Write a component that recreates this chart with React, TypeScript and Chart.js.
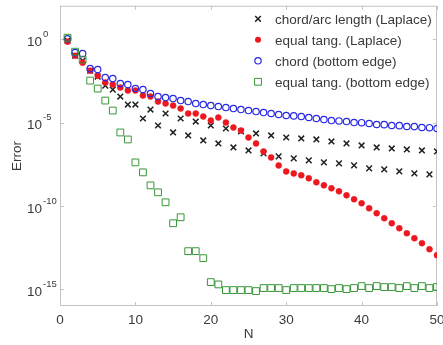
import React, { useEffect, useRef } from 'react';
import { Chart, registerables } from 'chart.js';

Chart.register(...registerables);

// ---------- data ----------
const N = [
  1, 2, 3, 4, 5, 6, 7, 8, 9, 10,
  11, 12, 13, 14, 15, 16, 17, 18, 19, 20,
  21, 22, 23, 24, 25, 26, 27, 28, 29, 30,
  31, 32, 33, 34, 35, 36, 37, 38, 39, 40,
  41, 42, 43, 44, 45, 46, 47, 48, 49, 50,
];

const chordArcLaplace = [
  8.07e-1, 1.02e-1, 5.14e-2, 1.29e-2, 5.66e-3, 1.64e-3, 9.46e-4, 3.61e-4, 1.2e-4, 1.2e-4,
  1.75e-5, 6.03e-5, 6.65e-6, 3.48e-5, 2.54e-6, 1.75e-5, 1.68e-6, 1.15e-5, 8.43e-7, 6.65e-6,
  5.57e-7, 4.4e-6, 3.21e-7, 2.91e-6, 2.13e-7, 2.21e-6, 1.41e-7, 1.68e-6, 9.31e-8, 1.27e-6,
  7.06e-8, 1.11e-6, 5.37e-8, 9.68e-7, 4.07e-8, 7.35e-7, 3.55e-8, 5.57e-7, 2.7e-8, 4.24e-7,
  1.78e-8, 3.21e-7, 1.55e-8, 2.8e-7, 1.18e-8, 2.44e-7, 8.95e-9, 2.13e-7, 7.8e-9, 1.85e-7,
];

const equalTangLaplace = [
  7.03e-1, 1.02e-1, 3.9e-2, 1.29e-2, 6.5e-3, 2.48e-3, 1.88e-3, 1.25e-3, 8.24e-4, 8.24e-4,
  4.14e-4, 3.61e-4, 1.81e-4, 1.38e-4, 1.04e-4, 6.92e-5, 3.48e-5, 3.48e-5, 2.3e-5, 1.32e-5,
  2.0e-5, 1.0e-5, 5.05e-6, 3.34e-6, 1.27e-6, 5.57e-7, 1.85e-7, 8.11e-8, 2.7e-8, 1.18e-8,
  8.95e-9, 6.81e-9, 4.5e-9, 2.59e-9, 1.71e-9, 1.14e-9, 7.52e-10, 4.33e-10, 2.49e-10, 1.44e-10,
  7.23e-11, 3.63e-11, 1.82e-11, 9.16e-12, 4.6e-12, 2.31e-12, 1.16e-12, 5.83e-13, 2.55e-13, 1.12e-13,
];

const chordBottom = [
  1.06, 1.55e-1, 1.35e-1, 1.71e-2, 1.49e-2, 4.94e-3, 4.31e-3, 2.16e-3, 1.88e-3, 1.09e-3,
  9.46e-4, 5.46e-4, 3.61e-4, 3.15e-4, 2.74e-4, 2.08e-4, 1.81e-4, 1.38e-4, 1.2e-4, 1.04e-4,
  9.1e-5, 7.94e-5, 6.92e-5, 6.03e-5, 5.25e-5, 4.57e-5, 3.98e-5, 3.48e-5, 3.03e-5, 2.64e-5,
  2.5e-5, 2.3e-5, 2.0e-5, 1.75e-5, 1.52e-5, 1.32e-5, 1.25e-5, 1.15e-5, 1.0e-5, 9.8e-6,
  8.77e-6, 7.64e-6, 7.5e-6, 6.65e-6, 6.5e-6, 5.79e-6, 5.7e-6, 5.05e-6, 4.9e-6, 4.4e-6,
];

const equalTangBottom = [
  1.22, 1.77e-1, 5.89e-2, 3.27e-3, 1.09e-3, 2.08e-4, 5.25e-5, 2.54e-6, 9.68e-7, 4.07e-8,
  1.03e-8, 1.71e-9, 6.55e-10, 1.65e-10, 9.16e-12, 2.09e-11, 1.94e-13, 1.94e-13, 7.38e-14, 2.71e-15,
  1.97e-15, 9.0e-16, 9.0e-16, 9.0e-16, 9.0e-16, 7.85e-16, 1.19e-15, 1.19e-15, 1.19e-15, 9.0e-16,
  1.19e-15, 1.19e-15, 1.19e-15, 1.19e-15, 1.19e-15, 1.03e-15, 1.19e-15, 1.03e-15, 1.19e-15, 1.56e-15,
  1.19e-15, 1.56e-15, 1.36e-15, 1.36e-15, 1.19e-15, 1.56e-15, 1.19e-15, 1.56e-15, 1.19e-15, 1.36e-15,
];

const seriesNames = [
  'chord/arc length (Laplace)',
  'equal tang. (Laplace)',
  'chord (bottom edge)',
  'equal tang. (bottom edge)',
];

const xTickValues = [0, 10, 20, 30, 40, 50];
const yTickValues = [1, 1e-5, 1e-10, 1e-15];
const yTickExponents = ['0', '-5', '-10', '-15'];

// ---------- styling ----------
const FONT_FAMILY = '"Liberation Sans", Arial, Helvetica, sans-serif';
const TEXT_COLOR = '#3a3a3a';
const AXIS_COLOR = '#c4c4c4';
const COLORS = ['#222222', 'rgb(236,24,32)', 'rgb(40,40,230)', 'rgb(56,150,56)'];

const toPoints = (ys: number[]) => N.map((n, i) => ({ x: n, y: ys[i] }));

const axesPlugin = {
  id: 'matlabAxes',
  beforeDatasetsDraw(chart: any) {
    const { ctx, chartArea } = chart;
    const { left, right, top, bottom } = chartArea;
    const xs = chart.scales.x;
    const ys = chart.scales.y;
    ctx.save();
    ctx.strokeStyle = AXIS_COLOR;
    ctx.lineWidth = 1;
    ctx.strokeRect(left + 0.5, top + 0.5, right - left - 1, bottom - top - 1);
    const tl = 4;
    ctx.beginPath();
    xTickValues.forEach((v) => {
      const px = Math.round(xs.getPixelForValue(v)) + 0.5;
      ctx.moveTo(px, bottom);
      ctx.lineTo(px, bottom - tl);
      ctx.moveTo(px, top);
      ctx.lineTo(px, top + tl);
    });
    yTickValues.forEach((v) => {
      const py = Math.round(ys.getPixelForValue(v)) + 0.5;
      ctx.moveTo(left, py);
      ctx.lineTo(left + tl, py);
      ctx.moveTo(right, py);
      ctx.lineTo(right - tl, py);
    });
    ctx.stroke();

    // y tick labels 10^k
    ctx.fillStyle = TEXT_COLOR;
    ctx.textAlign = 'left';
    ctx.textBaseline = 'middle';
    yTickValues.forEach((v, i) => {
      const py = ys.getPixelForValue(v);
      const bx = left - 33;
      ctx.font = `13.5px ${FONT_FAMILY}`;
      ctx.fillText('10', bx, py + 3);
      const w = ctx.measureText('10').width;
      ctx.font = `9.5px ${FONT_FAMILY}`;
      ctx.fillText(yTickExponents[i], bx + w + 1, py - 5);
    });
    ctx.restore();
  },
  afterDraw(chart: any) {
    const { ctx, chartArea } = chart;
    const mx = chartArea.right - 179;
    const tx = chartArea.right - 162;
    const y0 = chartArea.top + 13;
    const dy = 21;
    ctx.save();
    chart.data.datasets.forEach((ds: any, i: number) => {
      const y = y0 + i * dy;
      ctx.strokeStyle = COLORS[i];
      ctx.fillStyle = COLORS[i];
      ctx.beginPath();
      if (i === 0) {
        const s = 2.8;
        ctx.lineWidth = 1.5;
        ctx.moveTo(mx - s, y - s);
        ctx.lineTo(mx + s, y + s);
        ctx.moveTo(mx - s, y + s);
        ctx.lineTo(mx + s, y - s);
        ctx.stroke();
      } else if (i === 1) {
        ctx.arc(mx, y, 3, 0, Math.PI * 2);
        ctx.fill();
      } else if (i === 2) {
        ctx.lineWidth = 1.2;
        ctx.arc(mx, y, 3.2, 0, Math.PI * 2);
        ctx.stroke();
      } else {
        ctx.lineWidth = 1;
        ctx.rect(mx - 3.4, y - 3.4, 6.8, 6.8);
        ctx.stroke();
      }
      ctx.fillStyle = TEXT_COLOR;
      ctx.font = `13.5px ${FONT_FAMILY}`;
      ctx.textAlign = 'left';
      ctx.textBaseline = 'middle';
      ctx.fillText(ds.label, tx, y + 1);
    });
    ctx.restore();
  },
};

export default function App() {
  const canvasRef = useRef<HTMLCanvasElement | null>(null);

  useEffect(() => {
    const canvas = canvasRef.current;
    if (!canvas) return;
    const font = { family: FONT_FAMILY, size: 13.5 };
    const chart = new Chart(canvas, {
      type: 'scatter',
      data: {
        datasets: [
          {
            label: seriesNames[0],
            data: toPoints(chordArcLaplace),
            pointStyle: 'crossRot',
            pointRadius: 4,
            borderColor: COLORS[0],
            backgroundColor: COLORS[0],
            borderWidth: 1.5,
            showLine: false,
            order: 3,
          },
          {
            label: seriesNames[1],
            data: toPoints(equalTangLaplace),
            pointStyle: 'circle',
            pointRadius: 3,
            borderColor: COLORS[1],
            backgroundColor: COLORS[1],
            borderWidth: 0.5,
            showLine: false,
            order: 2,
          },
          {
            label: seriesNames[2],
            data: toPoints(chordBottom),
            pointStyle: 'circle',
            pointRadius: 3.2,
            borderColor: COLORS[2],
            backgroundColor: 'rgba(0,0,0,0)',
            borderWidth: 1.2,
            showLine: false,
            order: 1,
          },
          {
            label: seriesNames[3],
            data: toPoints(equalTangBottom),
            pointStyle: 'rect',
            pointRadius: 4.8,
            borderColor: COLORS[3],
            backgroundColor: 'rgba(0,0,0,0)',
            borderWidth: 1,
            showLine: false,
            order: 0,
          },
        ],
      },
      options: {
        animation: false,
        responsive: false,
        devicePixelRatio: 1,
        layout: { padding: { left: 0, right: 6, top: 5, bottom: 0 } },
        plugins: {
          legend: { display: false },
          tooltip: { enabled: false },
        },
        scales: {
          x: {
            type: 'linear',
            min: 0,
            max: 50,
            afterBuildTicks: (s: any) => {
              s.ticks = xTickValues.map((v) => ({ value: v }));
            },
            afterFit: (s: any) => {
              s.height = 39;
              s.paddingLeft = 0;
              s.paddingRight = 0;
            },
            ticks: { font, color: TEXT_COLOR, padding: 6, maxRotation: 0, autoSkip: false },
            grid: { display: false, drawTicks: false },
            border: { display: false },
            title: { display: true, text: 'N', font, color: TEXT_COLOR, padding: { top: 0, bottom: 3 } },
          },
          y: {
            type: 'logarithmic',
            min: 1e-16,
            max: 1e2,
            afterBuildTicks: (s: any) => {
              s.ticks = yTickValues.map((v) => ({ value: v }));
            },
            afterFit: (s: any) => {
              s.width = 60;
              s.paddingTop = 0;
              s.paddingBottom = 0;
            },
            ticks: { display: false },
            grid: { display: false, drawTicks: false },
            border: { display: false },
            title: { display: true, text: 'Error', font, color: TEXT_COLOR, padding: { top: 9, bottom: 0 } },
          },
        },
      },
      plugins: [axesPlugin],
    } as any);
    return () => chart.destroy();
  }, []);

  return (
    <div style={{ position: 'absolute', left: 0, top: 0, width: 443, height: 345, background: '#fff' }}>
      <canvas ref={canvasRef} width={443} height={345} />
    </div>
  );
}
